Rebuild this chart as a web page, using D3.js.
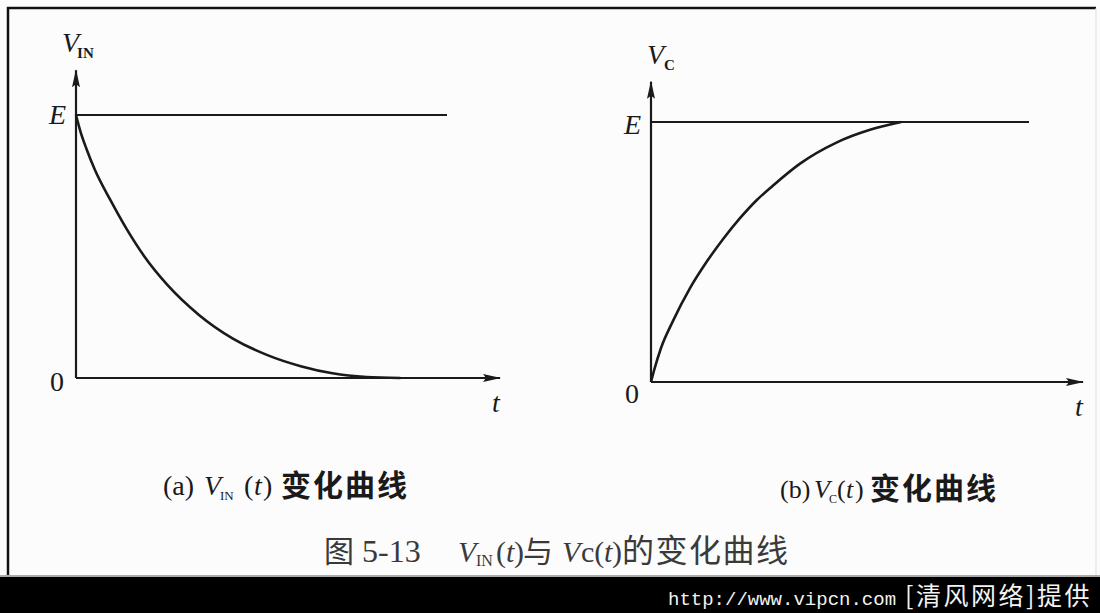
<!DOCTYPE html>
<html>
<head>
<meta charset="utf-8">
<script src="https://cdn.jsdelivr.net/npm/d3@7"></script>
<style>
  body { margin: 0; background: #fff; }
  svg { display: block; }
</style>
</head>
<body>
<svg id="chart"></svg>
<script>
// (a) V_IN(t) falls from E to 0, values in units of E
var vinT = [0, 0.1, 0.25, 0.45, 0.8, 1.2, 1.6, 2.15, 2.9, 3.7, 4.5, 5.3, 6.05, 6.85, 7.65];
var vinV = [1.0, 0.94, 0.87, 0.79, 0.68, 0.565, 0.465, 0.355, 0.24, 0.15, 0.088, 0.045, 0.018, 0.004, 0];

// (b) V_C(t) rises from 0 to E
var vcT = [0, 0.08, 0.23, 0.51, 0.9, 1.3, 1.67, 2.06, 2.45, 2.82, 3.45, 4.28, 5.07, 5.79];
var vcV = [0, 0.05, 0.13, 0.235, 0.36, 0.465, 0.55, 0.63, 0.7, 0.755, 0.84, 0.92, 0.97, 1.0];

var yTickValues = [0, 1];
var yTickLabels = ["0", "E"];
var tMax = 10;
var eLineEnd = 8.75;

var width = 1100, height = 613;
var ink = "#1a1a1a";
var serif = "'Liberation Serif', 'DejaVu Serif', serif";
var cjk = "'Noto Sans CJK SC', sans-serif";
var mono = "'Liberation Mono', 'DejaVu Sans Mono', monospace";

var svg = d3.select("#chart").attr("width", width).attr("height", height);

// paper background + scan frame
svg.append("rect").attr("width", width).attr("height", height).attr("fill", "#fcfcfc");
svg.append("line").attr("x1", 7).attr("x2", 1096).attr("y1", 8).attr("y2", 8)
  .attr("stroke", "#111").attr("stroke-width", 2.5);
svg.append("line").attr("x1", 8).attr("x2", 8).attr("y1", 7).attr("y2", 577)
  .attr("stroke", "#111").attr("stroke-width", 2.5);
svg.append("line").attr("x1", 1096).attr("x2", 1096).attr("y1", 8).attr("y2", 577)
  .attr("stroke", "#ddd").attr("stroke-width", 1);

// arrow heads
var defs = svg.append("defs");
defs.append("marker")
  .attr("id", "arrow")
  .attr("viewBox", "0 0 18 8")
  .attr("refX", 17)
  .attr("refY", 4)
  .attr("markerUnits", "userSpaceOnUse")
  .attr("markerWidth", 18)
  .attr("markerHeight", 8)
  .attr("orient", "auto")
  .append("path")
  .attr("d", "M0,0 L18,4 L0,8 L3,4 Z")
  .attr("fill", ink);

function drawPanel(p, ts, vs) {
  var x = d3.scaleLinear().domain([0, tMax]).range([p.left, p.right]);
  var y = d3.scaleLinear().domain([0, 1]).range([p.zero, p.top]);
  var g = svg.append("g");

  // E level line
  g.append("line")
    .attr("x1", x(0)).attr("x2", x(eLineEnd))
    .attr("y1", y(1)).attr("y2", y(1))
    .attr("stroke", ink).attr("stroke-width", 2);

  // t axis
  g.append("line")
    .attr("x1", x(0)).attr("x2", x(tMax))
    .attr("y1", y(0)).attr("y2", y(0))
    .attr("stroke", ink).attr("stroke-width", 2.2)
    .attr("marker-end", "url(#arrow)");

  // V axis
  g.append("line")
    .attr("x1", x(0)).attr("x2", x(0))
    .attr("y1", y(0)).attr("y2", y(p.vTop))
    .attr("stroke", ink).attr("stroke-width", 2.2)
    .attr("marker-end", "url(#arrow)");

  // the curve
  var line = d3.line()
    .x(function (d, i) { return x(ts[i]); })
    .y(function (d) { return y(d); })
    .curve(d3.curveMonotoneX);
  g.append("path")
    .datum(vs)
    .attr("d", line)
    .attr("fill", "none")
    .attr("stroke", ink)
    .attr("stroke-width", 2.6);

  // 0 and E labels
  var ax = g.append("g")
    .attr("transform", "translate(" + (x(0) - 10) + ",0)")
    .call(d3.axisLeft(y).tickValues(yTickValues)
      .tickFormat(function (d, i) { return yTickLabels[i]; })
      .tickSize(0).tickPadding(0));
  ax.select(".domain").remove();
  ax.selectAll("text")
    .attr("font-family", serif)
    .attr("font-size", 28)
    .attr("fill", ink)
    .attr("font-style", function (d) { return d === 1 ? "italic" : null; })
    .attr("dy", function (d) { return d === 1 ? p.eDy : p.zeroDy; })
    .attr("x", function (d) { return d === 1 ? 0 : -2; });

  // t label
  g.append("text")
    .attr("x", x(tMax) - 8).attr("y", y(0) + 34)
    .attr("font-family", serif).attr("font-style", "italic")
    .attr("font-size", 28).attr("fill", ink)
    .text("t");

  // V label with subscript
  var vl = g.append("text")
    .attr("x", x(0) + p.vDx).attr("y", y(p.vTop) - 18)
    .attr("font-family", serif).attr("fill", ink);
  vl.append("tspan").attr("font-style", "italic").attr("font-size", 28).text("V");
  vl.append("tspan").attr("font-size", p.subSize).attr("dy", 6).attr("dx", p.subDx)
    .attr("font-weight", "bold").text(p.sub);

  return { x: x, y: y };
}

drawPanel({ left: 76, right: 500, zero: 378, top: 115, vTop: 1.17, eDy: "0.32em", zeroDy: "0.45em",
  vDx: -14, subDx: -2, sub: "IN", subSize: 15 }, vinT, vinV);
drawPanel({ left: 651, right: 1083, zero: 382, top: 122, vTop: 1.155, eDy: "0.4em", zeroDy: "0.72em",
  vDx: -4, subDx: 0, sub: "C", subSize: 15 }, vcT, vcV);

// small helper: a run of text at an absolute x
function piece(x, y, str, o) {
  o = o || {};
  return svg.append("text")
    .attr("x", x).attr("y", y)
    .attr("font-family", o.font || serif)
    .attr("font-size", o.size || 28)
    .attr("font-style", o.italic ? "italic" : null)
    .attr("font-weight", o.bold ? "bold" : null)
    .attr("letter-spacing", o.ls || null)
    .attr("fill", o.fill || ink)
    .text(str);
}

// caption (a)
piece(163, 495, "(a)");
piece(204, 495, "V", { italic: true });
piece(220, 500, "IN", { size: 13 });
piece(244, 495, "(", {});
piece(254, 495, "t", { italic: true });
piece(263, 495, ")", {});
piece(281, 496, "变化曲线", { font: cjk, bold: true, size: 30, ls: 2 });

// caption (b)
piece(780, 498, "(b)", { size: 26 });
piece(814, 498, "V", { italic: true, size: 26 });
piece(829, 503, "C", { size: 12 });
piece(837, 498, "(", { size: 26 });
piece(846, 498, "t", { italic: true, size: 26 });
piece(855, 498, ")", { size: 26 });
piece(870, 499, "变化曲线", { font: cjk, bold: true, size: 30, ls: 2 });

// figure title
var tf = "#3a3a3a";
piece(324, 562, "图", { font: cjk, size: 30, fill: tf });
piece(362, 562, "5-13", { size: 32, fill: tf });
piece(458, 562, "V", { size: 30, italic: true, fill: tf });
piece(476, 566, "IN", { size: 16, fill: tf });
piece(496, 562, "(", { size: 30, fill: tf });
piece(506, 562, "t", { size: 30, italic: true, fill: tf });
piece(514, 562, ")", { size: 30, fill: tf });
piece(523, 562, "与", { font: cjk, size: 30, fill: tf });
piece(562, 562, "V", { size: 30, italic: true, fill: tf });
piece(581, 562, "c(", { size: 30, fill: tf });
piece(604, 562, "t", { size: 30, italic: true, fill: tf });
piece(612, 562, ")", { size: 30, fill: tf });
piece(622, 562, "的变化曲线", { font: cjk, size: 32, ls: 1.5, fill: tf });

// watermark bar
svg.append("line").attr("x1", 0).attr("x2", width).attr("y1", 576).attr("y2", 576)
  .attr("stroke", "#aaa").attr("stroke-width", 2);
svg.append("rect").attr("x", 0).attr("y", 577).attr("width", width).attr("height", height - 577)
  .attr("fill", "#000");
piece(668, 605, "http://www.vipcn.com", { font: mono, size: 19, fill: "#f2f2f2" });
piece(905, 605, "[清风网络]提供", { font: cjk, size: 25, ls: 2.5, fill: "#f2f2f2" });
</script>
</body>
</html>
